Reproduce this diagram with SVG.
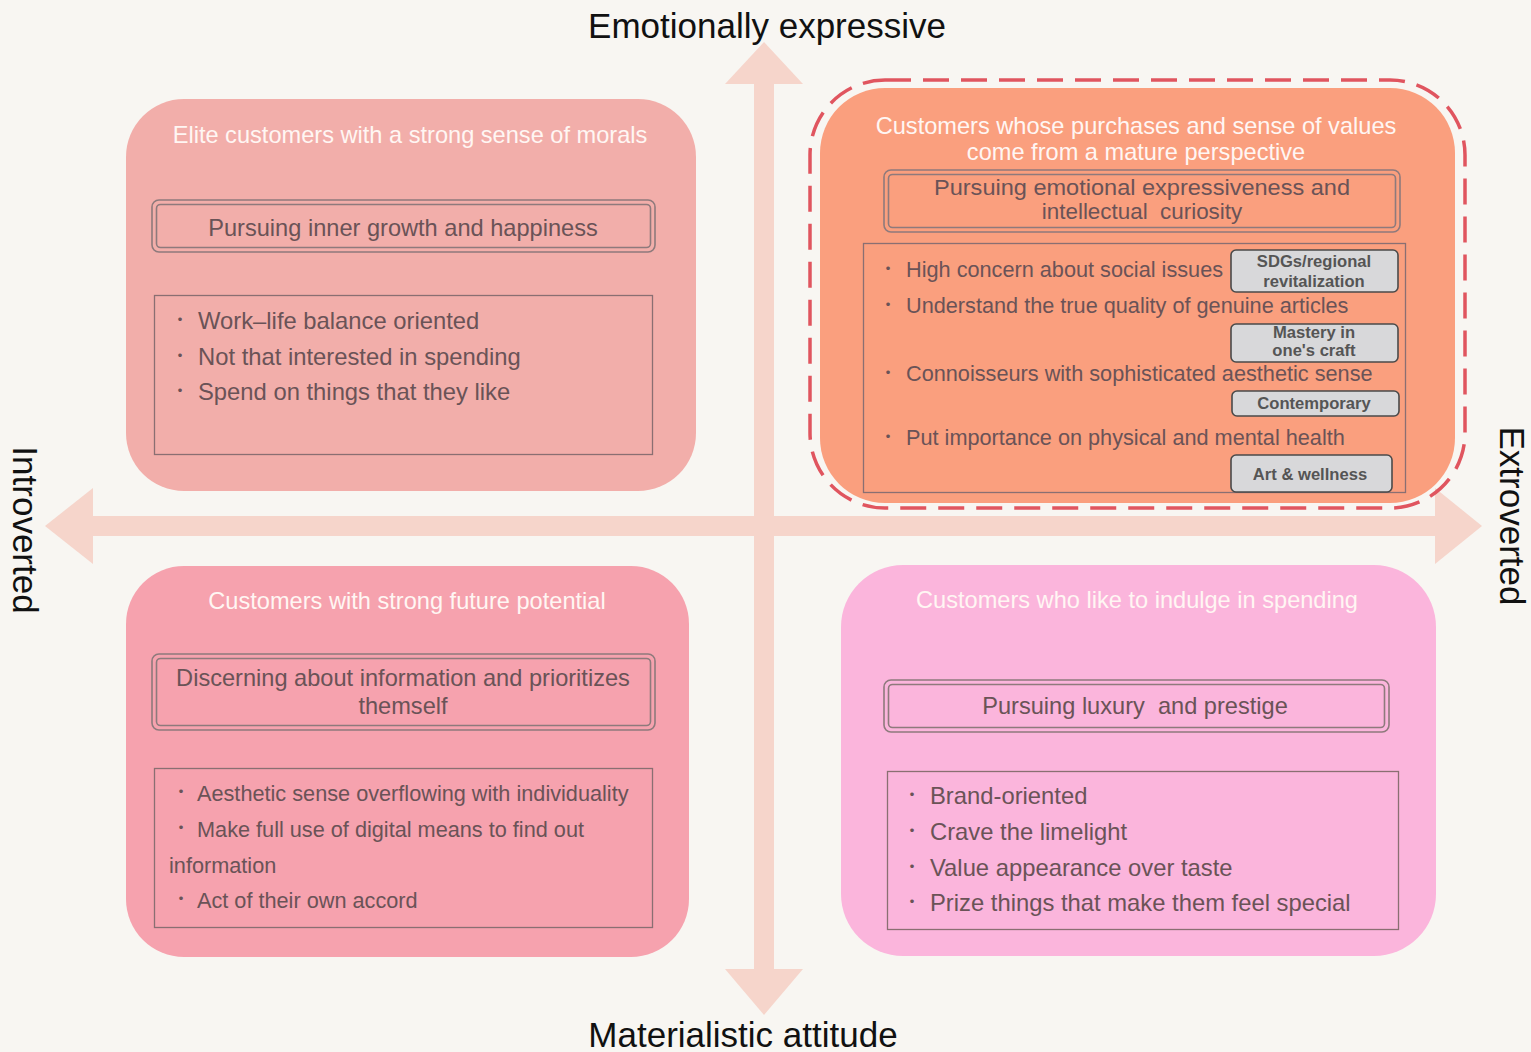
<svg xmlns="http://www.w3.org/2000/svg" width="1531" height="1052" viewBox="0 0 1531 1052">
<defs>
<style>
text{font-family:"Liberation Sans",Arial,"Noto Sans CJK JP",sans-serif}
.ax{font-size:35px;fill:#111}
.ttl{font-size:23.6px;fill:#fff6f3;text-anchor:middle}
.sub{font-size:23.6px;fill:#6a5357;text-anchor:middle}
.sub2{font-size:22.4px;fill:#6a5357;text-anchor:middle}
.bl{font-size:23.8px;fill:#6a5357}
.bl2{font-size:21.7px;fill:#6a5357}
.dot{font-size:17px;fill:#6a5357;text-anchor:middle}
.dbl{fill:none;stroke:#8e7a7c;stroke-width:1.6}
.lst{fill:none;stroke:#8a6f72;stroke-width:1.3}
.tag{fill:#d8d8da;stroke:#4a4a4a;stroke-width:1.6}
.tgt{font-size:16.6px;font-weight:bold;fill:#555;text-anchor:middle}
.axis{fill:#f6d5cb}
</style>
</defs>
<rect width="1531" height="1052" fill="#f8f6f2"/>
<g id="axes">
<rect class="axis" x="754" y="80" width="20" height="892"/>
<polygon class="axis" points="764,42 803,84 725,84"/>
<polygon class="axis" points="764,1015 803,969 725,969"/>
<rect class="axis" x="90" y="516" width="1348" height="20"/>
<polygon class="axis" points="45,526 93,488 93,564"/>
<polygon class="axis" points="1482,526 1435,488 1435,564"/>
</g>
<g id="axis-labels">
<text class="ax" x="767" y="38" text-anchor="middle">Emotionally expressive</text>
<text class="ax" x="743" y="1047" text-anchor="middle">Materialistic attitude</text>
<text class="ax" transform="translate(13,530) rotate(90)" text-anchor="middle">Introverted</text>
<text class="ax" transform="translate(1500,516) rotate(90)" text-anchor="middle">Extroverted</text>
</g>
<g id="q-top-left">
<rect x="126" y="99" width="570" height="392" rx="58" fill="#f2aeaa"/>
<text class="ttl" x="410" y="143">Elite customers with a strong sense of morals</text>
<rect class="dbl" x="152" y="200" width="503" height="52" rx="7"/>
<rect class="dbl" x="156.5" y="204.5" width="494" height="43" rx="4"/>
<text class="sub" x="403" y="236">Pursuing inner growth and happiness</text>
<rect class="lst" x="154.5" y="295.5" width="498" height="159"/>
<text class="dot" x="180" y="326">・</text><text class="bl" x="198" y="329">Work–life balance oriented</text>
<text class="dot" x="180" y="362">・</text><text class="bl" x="198" y="365">Not that interested in spending</text>
<text class="dot" x="180" y="397">・</text><text class="bl" x="198" y="400">Spend on things that they like</text>
</g>
<g id="q-top-right">
<rect x="810" y="80" width="655" height="428" rx="75" fill="none" stroke="#e0555f" stroke-width="3.5" stroke-dasharray="26 12"/>
<rect x="820" y="88" width="635" height="415" rx="65" fill="#fa9f7e"/>
<text class="ttl" x="1136" y="134">Customers whose purchases and sense of values</text>
<text class="ttl" x="1136" y="160">come from a mature perspective</text>
<rect class="dbl" x="884" y="170" width="516" height="62" rx="7"/>
<rect class="dbl" x="888.5" y="174.5" width="507" height="53" rx="4"/>
<text class="sub2" x="1142" y="195" textLength="416" lengthAdjust="spacingAndGlyphs">Pursuing emotional expressiveness and</text>
<text class="sub2" x="1142" y="219" xml:space="preserve">intellectual  curiosity</text>
<rect class="lst" x="863.5" y="243.5" width="542" height="249"/>
<text class="dot" x="888" y="275">・</text><text class="bl2" x="906" y="277">High concern about social issues</text>
<text class="dot" x="888" y="311">・</text><text class="bl2" x="906" y="313">Understand the true quality of genuine articles</text>
<text class="dot" x="888" y="379">・</text><text class="bl2" x="906" y="381">Connoisseurs with sophisticated aesthetic sense</text>
<text class="dot" x="888" y="443">・</text><text class="bl2" x="906" y="445">Put importance on physical and mental health</text>
<rect class="tag" x="1231" y="250" width="167" height="42" rx="5"/>
<text class="tgt" x="1314" y="267">SDGs/regional</text>
<text class="tgt" x="1314" y="287">revitalization</text>
<rect class="tag" x="1231" y="324" width="167" height="38" rx="5"/>
<text class="tgt" x="1314" y="338">Mastery in</text>
<text class="tgt" x="1314" y="356">one's craft</text>
<rect class="tag" x="1232" y="391" width="167" height="25" rx="5"/>
<text class="tgt" x="1314" y="409">Contemporary</text>
<rect class="tag" x="1231" y="455" width="161" height="37" rx="5"/>
<text class="tgt" x="1310" y="480">Art &amp; wellness</text>
</g>
<g id="q-bottom-left">
<rect x="126" y="566" width="563" height="391" rx="58" fill="#f6a2ae"/>
<text class="ttl" x="407" y="609">Customers with strong future potential</text>
<rect class="dbl" x="152" y="654" width="503" height="76" rx="7"/>
<rect class="dbl" x="156.5" y="658.5" width="494" height="67" rx="4"/>
<text class="sub" x="403" y="686">Discerning about information and prioritizes</text>
<text class="sub" x="403" y="714">themself</text>
<rect class="lst" x="154.5" y="768.5" width="498" height="159"/>
<text class="dot" x="181" y="798">・</text><text class="bl2" x="197" y="801">Aesthetic sense overflowing with individuality</text>
<text class="dot" x="181" y="834">・</text><text class="bl2" x="197" y="837">Make full use of digital means to find out</text>
<text class="bl2" x="169" y="873">information</text>
<text class="dot" x="181" y="905">・</text><text class="bl2" x="197" y="908">Act of their own accord</text>
</g>
<g id="q-bottom-right">
<rect x="841" y="565" width="595" height="391" rx="62" fill="#fbb5dc"/>
<text class="ttl" x="1137" y="608">Customers who like to indulge in spending</text>
<rect class="dbl" x="884" y="680" width="505" height="52" rx="7"/>
<rect class="dbl" x="888.5" y="684.5" width="496" height="43" rx="4"/>
<text class="sub" x="1135" y="714" xml:space="preserve">Pursuing luxury  and prestige</text>
<rect class="lst" x="887.5" y="771.5" width="511" height="158"/>
<text class="dot" x="912" y="801">・</text><text class="bl" x="930" y="804">Brand-oriented</text>
<text class="dot" x="912" y="837">・</text><text class="bl" x="930" y="840">Crave the limelight</text>
<text class="dot" x="912" y="873">・</text><text class="bl" x="930" y="876">Value appearance over taste</text>
<text class="dot" x="912" y="908">・</text><text class="bl" x="930" y="911">Prize things that make them feel special</text>
</g>
</svg>
